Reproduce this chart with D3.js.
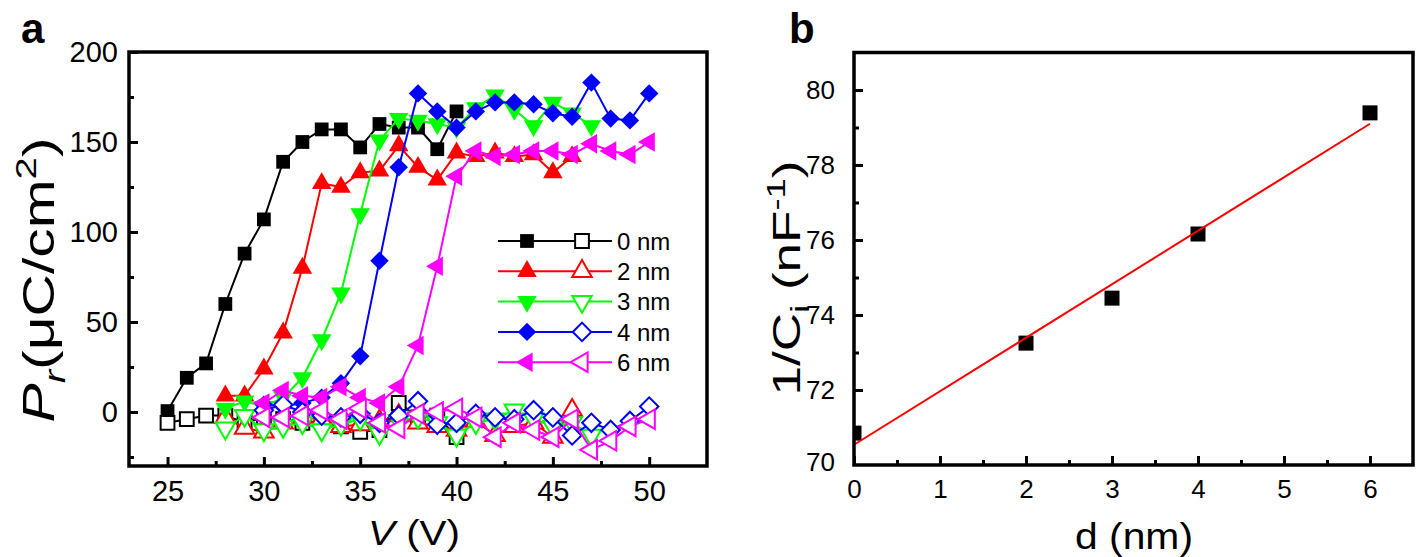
<!DOCTYPE html>
<html><head><meta charset="utf-8">
<script src="https://cdn.jsdelivr.net/npm/d3@7"></script>
<style>
body{margin:0;background:#fff}
svg{display:block}
text{font-family:"Liberation Sans",Arial,Helvetica,sans-serif;fill:#000}
</style>
</head><body>
<svg id="c" width="1418" height="557"></svg>
<script>
// ---------- Panel a data ----------
const voltages = [25,26,27,28,29,30,31,32,33,34,35,36,37,38,39,40,41,42,43,44,45,46,47,48,49,50];
const _ = null;
const pr0Filled = [0.5,19,27,60,88,107,139,150,157,157,147,160,158,158,146,167,_,_,_,_,_,_,_,_,_,_];
const pr0Open   = [-6,-4,-2,-2,-6,-3,-4,-6,-5,-8,-11,-10,5,-3,-2,-14,_,_,_,_,_,_,_,_,_,_];
const pr2Filled = [_,_,_,9,9,24,44,80,127,125,133,134,148,136,129,144,142,144,142,143,133,142,_,_,_,_];
const pr2Open   = [_,_,_,-3,-9,-11,-6,-3,-4,-8,-7,-5,-2,-6,-8,-10,-5,-13,-8,-6,-14,1,_,_,_,_];
const pr3Filled = [_,_,_,2,6,3,8,19,40,66,110,151,163,162,160,158,169,176,168,159,172,166,159,_,_,_];
const pr3Open   = [_,_,_,-9,-2,-10,-8,-6,-10,-7,-4,-12,-5,-3,-6,-13,-6,-4,1,-4,-8,-6,-13,_,_,_];
const pr4Filled = [_,_,_,_,_,4,3,5,8,16,31,84,136,177,167,158,167,172,172,171,166,164,183,163,162,177];
const pr4Open   = [_,_,_,_,_,1,4,0,-2,-3,-1,-6,-2,6,-7,-6,-1,-3,-4,1,-3,-13,-6,-10,-5,3];
const pr6Filled = [_,_,_,_,_,5,12,9,8,14,8,5,14,37,81,131,145,142,143,145,145,143,149,145,143,150];
const pr6Open   = [_,_,_,_,_,-3,-3,-2,1,-4,2,-6,-9,-1,0,2,-3,-14,-6,-10,-14,-4,-21,-16,-8,-4];
const legendLabels = ["0 nm","2 nm","3 nm","4 nm","6 nm"];
const seriesColors = ["#000000","#ff0000","#00ff00","#0000ff","#ff00ff"];
const seriesShapes = ["square","up","down","diamond","left"];
const xTicksA = [25,30,35,40,45,50];
const xMinorA = [27.5,32.5,37.5,42.5,47.5];
const yTicksA = [0,50,100,150,200];
const yMinorA = [-25,25,75,125,175];

// ---------- Panel b data ----------
const thickness = [0,2,3,4,6];
const invCap = [70.85,73.25,74.45,76.16,79.39];
const xTicksB = [0,1,2,3,4,5,6];
const xMinorB = [0.5,1.5,2.5,3.5,4.5,5.5];
const yTicksB = [70,72,74,76,78,80];
const yMinorB = [71,73,75,77,79];

const svg = d3.select("#c");
const A = {left:129, right:707, top:52, bottom:466};
const B = {left:854, right:1413, top:52.5, bottom:465};

const xA = d3.scaleLinear().domain([23,53]).range([A.left, A.right]);
const yA = d3.scaleLinear().domain([-30,200]).range([A.bottom, A.top]);
const xB = d3.scaleLinear().domain([0,6.5]).range([B.left, B.right]);
const yB = d3.scaleLinear().domain([70,81]).range([B.bottom, B.top]);

function markerPath(shape){
  if(shape==="square") return {d:d3.symbol().type(d3.symbolSquare).size(190)(), rot:0};
  if(shape==="diamond") return {d:d3.symbol().type(d3.symbolSquare).size(170)(), rot:45};
  const t = d3.symbol().type(d3.symbolTriangle).size(165)();
  if(shape==="up") return {d:t, rot:0};
  if(shape==="down") return {d:t, rot:180};
  if(shape==="left") return {d:t, rot:-90};
}

const gA = svg.append("g");
const filledSeries = [pr0Filled,pr2Filled,pr3Filled,pr4Filled,pr6Filled];
const openSeries = [pr0Open,pr2Open,pr3Open,pr4Open,pr6Open];

function drawSeries(values, color, shape, open){
  const pts = voltages.map((v,i)=>({v, p:values[i]})).filter(d=>d.p!==null);
  const line = d3.line().x(d=>xA(d.v)).y(d=>yA(d.p));
  gA.append("path").attr("d", line(pts)).attr("fill","none")
    .attr("stroke", color).attr("stroke-width", 2);
  const m = markerPath(shape);
  gA.selectAll(null).data(pts).enter().append("path")
    .attr("d", m.d)
    .attr("transform", d=>`translate(${xA(d.v)},${yA(d.p)}) rotate(${m.rot})`)
    .attr("fill", open ? "#fff" : color)
    .attr("stroke", color).attr("stroke-width", open ? 2 : 0);
}
for(let k=0;k<5;k++){
  drawSeries(filledSeries[k], seriesColors[k], seriesShapes[k], false);
  drawSeries(openSeries[k], seriesColors[k], seriesShapes[k], true);
}

function styleAxis(g, fs){
  g.select(".domain").remove();
  g.selectAll(".tick line").attr("stroke","#000").attr("stroke-width",3);
  g.selectAll(".tick text").attr("font-size", fs).attr("fill","#000")
    .attr("font-family",'"Liberation Sans",Arial,sans-serif');
}
const axAx = gA.append("g").attr("transform",`translate(0,${A.bottom})`)
  .call(d3.axisBottom(xA).tickValues(xTicksA).tickSizeInner(-9).tickSizeOuter(0).tickPadding(14));
styleAxis(axAx, 29);
const axAxm = gA.append("g").attr("transform",`translate(0,${A.bottom})`)
  .call(d3.axisBottom(xA).tickValues(xMinorA).tickSizeInner(-5).tickSizeOuter(0).tickFormat(""));
styleAxis(axAxm, 29);
const axAy = gA.append("g").attr("transform",`translate(${A.left},0)`)
  .call(d3.axisLeft(yA).tickValues(yTicksA).tickSizeInner(-9).tickSizeOuter(0).tickPadding(11));
styleAxis(axAy, 29);
const axAym = gA.append("g").attr("transform",`translate(${A.left},0)`)
  .call(d3.axisLeft(yA).tickValues(yMinorA).tickSizeInner(-5).tickSizeOuter(0).tickFormat(""));
styleAxis(axAym, 29);
gA.append("rect").attr("x",A.left).attr("y",A.top).attr("width",A.right-A.left).attr("height",A.bottom-A.top)
  .attr("fill","none").attr("stroke","#000").attr("stroke-width",3.5);

const legY0 = 241, legDy = 30.3;
legendLabels.forEach((lab,k)=>{
  const y = legY0 + k*legDy;
  gA.append("line").attr("x1",498).attr("x2",612).attr("y1",y).attr("y2",y)
    .attr("stroke",seriesColors[k]).attr("stroke-width",2);
  const m = markerPath(seriesShapes[k]);
  gA.append("path").attr("d",m.d).attr("transform",`translate(527,${y}) rotate(${m.rot})`)
    .attr("fill",seriesColors[k]);
  gA.append("path").attr("d",m.d).attr("transform",`translate(582,${y}) rotate(${m.rot})`)
    .attr("fill","#fff").attr("stroke",seriesColors[k]).attr("stroke-width",2);
  gA.append("text").attr("x",617).attr("y",y).attr("dy","0.36em").attr("font-size",24).text(lab);
});

svg.append("text").attr("x",21).attr("y",43).attr("font-size",42).attr("font-weight","bold").text("a");
const tA = svg.append("text").attr("font-size",35).attr("text-anchor","middle")
  .attr("x",414).attr("y",545).attr("textLength",92).attr("lengthAdjust","spacingAndGlyphs");
tA.append("tspan").attr("font-style","italic").text("V");
tA.append("tspan").text(" (V)");
const yAt = svg.append("text").attr("font-size",44).attr("text-anchor","middle")
  .attr("x",0).attr("y",0).attr("textLength",285).attr("lengthAdjust","spacingAndGlyphs")
  .attr("transform",`translate(54,280) rotate(-90)`);
yAt.append("tspan").attr("font-style","italic").text("P");
yAt.append("tspan").attr("font-style","italic").attr("font-size",30).attr("dy",11).text("r");
yAt.append("tspan").attr("dy",-11).text("(\u03bcC/cm");
yAt.append("tspan").attr("font-size",30).attr("dy",-18).text("2");
yAt.append("tspan").attr("dy",18).text(")");

// ---------- Panel b ----------
const gB = svg.append("g");
svg.append("defs").append("clipPath").attr("id","clipB").append("rect")
  .attr("x",B.left).attr("y",B.top).attr("width",B.right-B.left).attr("height",B.bottom-B.top);
const ptsB = thickness.map((d,i)=>({d, v:invCap[i]}));
gB.append("g").attr("clip-path","url(#clipB)").selectAll("rect").data(ptsB).enter().append("rect")
  .attr("x",p=>xB(p.d)-7.5).attr("y",p=>yB(p.v)-7.5).attr("width",15).attr("height",15).attr("fill","#000");
const mx = d3.mean(thickness), my = d3.mean(invCap);
const slope = d3.sum(thickness.map((x,i)=>(x-mx)*(invCap[i]-my))) / d3.sum(thickness.map(x=>(x-mx)*(x-mx)));
const icpt = my - slope*mx;
const x0 = d3.min(thickness), x1 = d3.max(thickness);
gB.append("line").attr("x1",xB(x0)).attr("y1",yB(icpt+slope*x0)).attr("x2",xB(x1)).attr("y2",yB(icpt+slope*x1))
  .attr("stroke","#ff0000").attr("stroke-width",2);

const axBx = gB.append("g").attr("transform",`translate(0,${B.bottom})`)
  .call(d3.axisBottom(xB).tickValues(xTicksB).tickFormat(d3.format("d")).tickSizeInner(-9).tickSizeOuter(0).tickPadding(15));
styleAxis(axBx, 26);
const axBxm = gB.append("g").attr("transform",`translate(0,${B.bottom})`)
  .call(d3.axisBottom(xB).tickValues(xMinorB).tickSizeInner(-5).tickSizeOuter(0).tickFormat(""));
styleAxis(axBxm, 26);
const axBy = gB.append("g").attr("transform",`translate(${B.left},0)`)
  .call(d3.axisLeft(yB).tickValues(yTicksB.filter(v=>v>70)).tickFormat(d3.format("d")).tickSizeInner(-9).tickSizeOuter(0).tickPadding(19));
styleAxis(axBy, 26);
const axBy0 = gB.append("g").attr("transform",`translate(${B.left},0)`)
  .call(d3.axisLeft(yB).tickValues([70]).tickFormat(d3.format("d")).tickSizeInner(0).tickSizeOuter(0).tickPadding(19));
styleAxis(axBy0, 26);
axBy0.selectAll(".tick text").attr("dy","0.2em");
const axBym = gB.append("g").attr("transform",`translate(${B.left},0)`)
  .call(d3.axisLeft(yB).tickValues(yMinorB).tickSizeInner(-5).tickSizeOuter(0).tickFormat(""));
styleAxis(axBym, 26);
gB.append("rect").attr("x",B.left).attr("y",B.top).attr("width",B.right-B.left).attr("height",B.bottom-B.top)
  .attr("fill","none").attr("stroke","#000").attr("stroke-width",3.5);

svg.append("text").attr("x",789).attr("y",43).attr("font-size",42).attr("font-weight","bold").text("b");
svg.append("text").attr("font-size",37).attr("text-anchor","middle")
  .attr("x",1134).attr("y",549).attr("textLength",118).attr("lengthAdjust","spacingAndGlyphs").text("d (nm)");
const yBt = svg.append("text").attr("font-size",38).attr("text-anchor","middle")
  .attr("x",0).attr("y",0).attr("textLength",235).attr("lengthAdjust","spacingAndGlyphs")
  .attr("transform",`translate(800,278) rotate(-90)`);
yBt.append("tspan").text("1/C");
yBt.append("tspan").attr("font-size",26).attr("dy",9).text("i");
yBt.append("tspan").attr("dy",-9).text(" (nF");
yBt.append("tspan").attr("font-size",26).attr("dy",-15).text("-1");
yBt.append("tspan").attr("dy",15).text(")");
</script>
</body></html>
